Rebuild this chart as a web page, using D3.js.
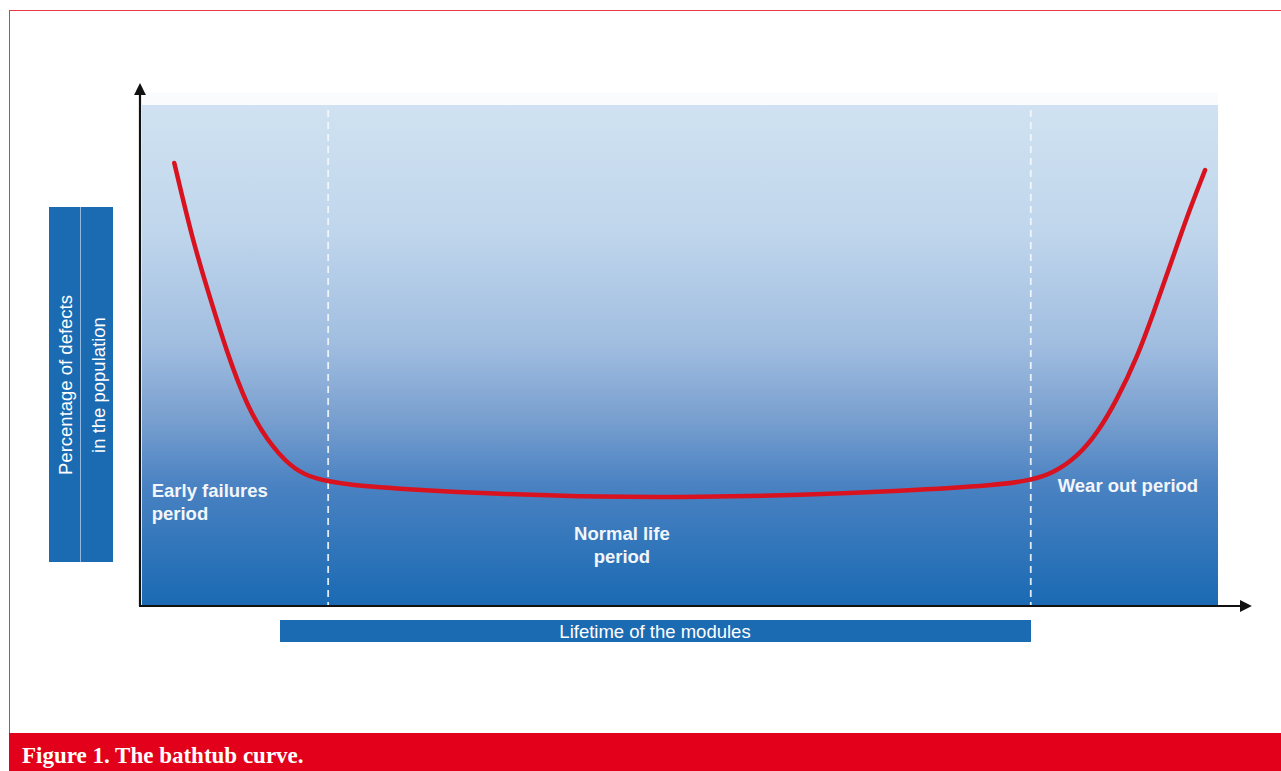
<!DOCTYPE html>
<html>
<head>
<meta charset="utf-8">
<script src="https://cdn.jsdelivr.net/npm/d3@7"></script>
<style>
  body { margin: 0; background: #fff; }
  svg { display: block; }
</style>
</head>
<body>
<div id="chart"></div>
<script>
// lifetime (0-100) vs percentage of defects (0-100)
const lifetime = [3.0, 4.7, 6.1, 7.9, 9.8, 11.6, 13.8, 15.6, 17.2, 19.3, 24.0, 33.3, 42.6, 51.9, 61.2, 70.4, 79.7, 82.7, 84.7, 86.9, 88.8, 90.6, 92.5, 94.0, 95.5, 97.1, 98.8];
const defects  = [88.4, 73.0, 63.0, 50.4, 39.6, 33.0, 27.6, 25.6, 24.8, 24.0, 23.2, 22.2, 21.6, 21.6, 22.0, 22.8, 24.0, 25.0, 26.4, 29.6, 34.4, 41.0, 49.6, 58.4, 67.6, 77.6, 87.0];
const periodBounds = [17.3, 82.6];
const periodLabels = [
  { lines: ['Early failures', 'period'], x: 0.9, y: 21.6, anchor: 'start' },
  { lines: ['Normal life', 'period'], x: 44.6, y: 13.0, anchor: 'middle' },
  { lines: ['Wear out period'], x: 85.1, y: 22.6, anchor: 'start' }
];
const yTitle = ['Percentage of defects', 'in the population'];
const xTitle = 'Lifetime of the modules';
const caption = 'Figure 1. The bathtub curve.';

const width = 1281, height = 771;
const plot = { left: 142, right: 1218, top: 105, bottom: 605 };

const svg = d3.select('#chart')
  .append('svg')
  .attr('width', width)
  .attr('height', height);

// frame + caption band
svg.append('rect')
  .attr('x', 9.5).attr('y', 10.5)
  .attr('width', width).attr('height', 740)
  .attr('fill', 'none')
  .attr('stroke', '#e8394a')
  .attr('stroke-width', 1);

svg.append('rect')
  .attr('x', 9).attr('y', 733)
  .attr('width', width - 9).attr('height', height - 733)
  .attr('fill', '#e2001a');

svg.append('text')
  .attr('x', 22).attr('y', 763)
  .attr('fill', '#fff')
  .style('font-family', '"Liberation Serif", "DejaVu Serif", serif')
  .style('font-weight', 'bold')
  .style('font-size', '23px')
  .text(caption);

const x = d3.scaleLinear().domain([0, 100]).range([plot.left, plot.right]);
const y = d3.scaleLinear().domain([0, 100]).range([plot.bottom, plot.top]);

const defs = svg.append('defs');
const grad = defs.append('linearGradient')
  .attr('id', 'bg')
  .attr('x1', 0).attr('y1', 0).attr('x2', 0).attr('y2', 1);
[
  ['0%', '#d0e2f1'],
  ['25%', '#c0d6ec'],
  ['48%', '#a0bde0'],
  ['62%', '#7ba1d0'],
  ['76%', '#4a82c2'],
  ['100%', '#1a6ab3']
].forEach(s => grad.append('stop').attr('offset', s[0]).attr('stop-color', s[1]));

// faint band above plot
svg.append('rect')
  .attr('x', plot.left).attr('y', plot.top - 12)
  .attr('width', plot.right - plot.left).attr('height', 12)
  .attr('fill', '#f9fbfd');

svg.append('rect')
  .attr('x', plot.left).attr('y', plot.top)
  .attr('width', plot.right - plot.left).attr('height', plot.bottom - plot.top)
  .attr('fill', 'url(#bg)');

// period dividers
svg.selectAll('.divider')
  .data(periodBounds)
  .enter()
  .append('line')
  .attr('class', 'divider')
  .attr('x1', d => x(d)).attr('x2', d => x(d))
  .attr('y1', plot.top + 5).attr('y2', plot.bottom)
  .attr('stroke', '#f4f8fc')
  .attr('stroke-opacity', 0.9)
  .attr('stroke-width', 1.8)
  .attr('stroke-dasharray', '7,5');

// bathtub curve
const pts = lifetime.map((v, i) => [v, defects[i]]);
svg.append('path')
  .datum(pts)
  .attr('fill', 'none')
  .attr('stroke', '#d8121f')
  .attr('stroke-width', 4.5)
  .attr('stroke-linecap', 'round')
  .attr('d', d3.line()
    .x(d => x(d[0]))
    .y(d => y(d[1]))
    .curve(d3.curveBasis));

// period labels
periodLabels.forEach(p => {
  const t = svg.append('text')
    .attr('x', x(p.x)).attr('y', y(p.y))
    .attr('text-anchor', p.anchor)
    .attr('fill', '#f2f6fb')
    .style('font-family', '"Liberation Sans", Arial, sans-serif')
    .style('font-weight', 'bold')
    .style('font-size', '18.5px');
  p.lines.forEach((l, i) => {
    t.append('tspan')
      .attr('x', x(p.x))
      .attr('dy', i === 0 ? 0 : 23)
      .text(l);
  });
});

// axes with arrows
defs.append('marker')
  .attr('id', 'arrow')
  .attr('viewBox', '0 0 10 10')
  .attr('refX', 1).attr('refY', 5)
  .attr('markerWidth', 5.5).attr('markerHeight', 5.5)
  .attr('orient', 'auto')
  .append('path')
  .attr('d', 'M0,0 L10,5 L0,10 Z')
  .attr('fill', '#111');

svg.append('line')
  .attr('x1', 140).attr('y1', plot.bottom + 1)
  .attr('x2', 140).attr('y2', 94)
  .attr('stroke', '#111').attr('stroke-width', 2.2)
  .attr('marker-end', 'url(#arrow)');

svg.append('line')
  .attr('x1', 139).attr('y1', plot.bottom + 1)
  .attr('x2', 1241).attr('y2', plot.bottom + 1)
  .attr('stroke', '#111').attr('stroke-width', 2.2)
  .attr('marker-end', 'url(#arrow)');

// y title box
svg.append('rect')
  .attr('x', 49).attr('y', 207)
  .attr('width', 64).attr('height', 355)
  .attr('fill', '#1b6bb3');
svg.append('line')
  .attr('x1', 80.5).attr('x2', 80.5)
  .attr('y1', 207).attr('y2', 562)
  .attr('stroke', '#8fb8e0').attr('stroke-width', 1);

yTitle.forEach((t, i) => {
  const cx = i === 0 ? 72 : 105;
  svg.append('text')
    .attr('transform', `translate(${cx},385) rotate(-90)`)
    .attr('text-anchor', 'middle')
    .attr('fill', '#fff')
    .style('font-family', '"Liberation Sans", Arial, sans-serif')
    .style('font-size', '18.5px')
    .text(t);
});

// x title bar
svg.append('rect')
  .attr('x', 280).attr('y', 620)
  .attr('width', 751).attr('height', 22)
  .attr('fill', '#1b6bb3');
svg.append('text')
  .attr('x', 655).attr('y', 638)
  .attr('text-anchor', 'middle')
  .attr('fill', '#fff')
  .style('font-family', '"Liberation Sans", Arial, sans-serif')
  .style('font-size', '18.5px')
  .text(xTitle);
</script>
</body>
</html>
